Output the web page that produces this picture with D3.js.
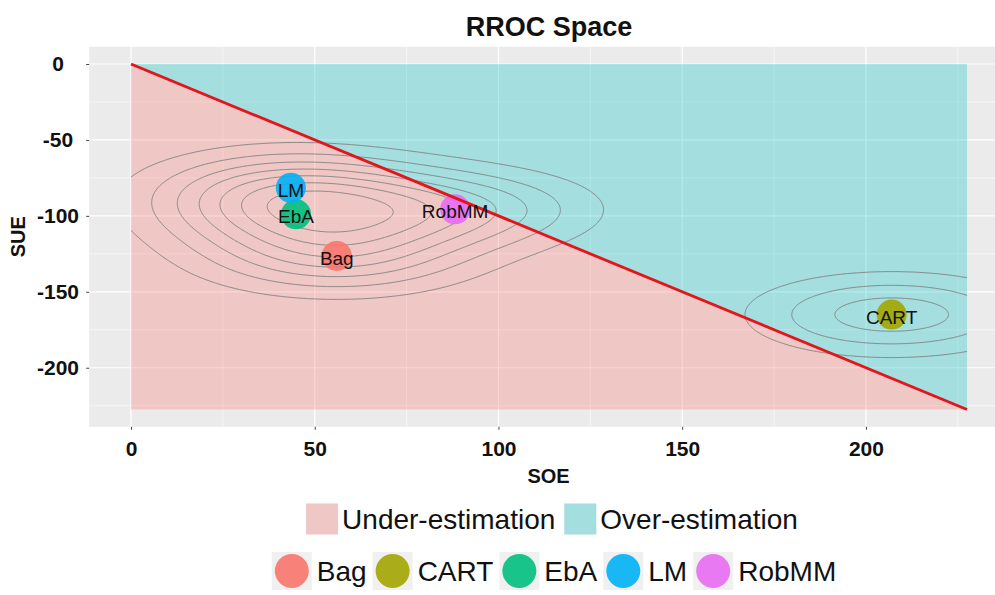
<!DOCTYPE html>
<html>
<head>
<meta charset="utf-8">
<script src="https://cdn.jsdelivr.net/npm/d3@7"></script>
<style>
  body { margin: 0; background: #fff; }
  svg { display: block; font-family: Arial, "Liberation Sans", sans-serif; }
</style>
</head>
<body>
<svg id="chart" width="995" height="595"></svg>
<script>
// Models placed in RROC space (SOE = sum of over-estimations, SUE = sum of under-estimations)
const models = ["Bag", "CART", "EbA", "LM", "RobMM"];
const soe = [56, 207, 44.9, 43.5, 88.2];
const sue = [-126.4, -165, -99, -81.5, -95.7];
const modelColors = ["#F8766D", "#A3A500", "#00BF7D", "#00B0F6", "#E76BF3"];

// Regions either side of the SOE = -SUE diagonal
const regionLabels = ["Under-estimation", "Over-estimation"];
const regionColors = ["#F8766D", "#00BFC4"];
const frontier = 227.5;

const xTicks = [0, 50, 100, 150, 200];
const xMinor = [25, 75, 125, 175, 225];
const yTicks = [0, -50, -100, -150, -200];
const yMinor = [-25, -75, -125, -175, -225];

const svg = d3.select("#chart");

const x = d3.scaleLinear().domain([0, frontier]).range([131, 967]);
const y = d3.scaleLinear().domain([0, -frontier]).range([64, 409.5]);
const pad = frontier * 0.05;
const px0 = x(-pad), px1 = x(frontier + pad);
const py0 = y(pad), py1 = y(-frontier - pad);

// Panel background and grid
svg.append("rect").attr("x", px0).attr("y", py0)
  .attr("width", px1 - px0).attr("height", py1 - py0).attr("fill", "#EBEBEB");

const grid = svg.append("g");
grid.selectAll(".vminor").data(xMinor).join("line")
  .attr("x1", d => x(d)).attr("x2", d => x(d)).attr("y1", py0).attr("y2", py1)
  .attr("stroke", "#fff").attr("stroke-width", 0.6);
grid.selectAll(".hminor").data(yMinor).join("line")
  .attr("y1", d => y(d)).attr("y2", d => y(d)).attr("x1", px0).attr("x2", px1)
  .attr("stroke", "#fff").attr("stroke-width", 0.6);
grid.selectAll(".vmajor").data(xTicks).join("line")
  .attr("x1", d => x(d)).attr("x2", d => x(d)).attr("y1", py0).attr("y2", py1)
  .attr("stroke", "#fff").attr("stroke-width", 1.2);
grid.selectAll(".hmajor").data(yTicks).join("line")
  .attr("y1", d => y(d)).attr("y2", d => y(d)).attr("x1", px0).attr("x2", px1)
  .attr("stroke", "#fff").attr("stroke-width", 1.2);

// Region polygons
const regions = [
  [[0, 0], [0, -frontier], [frontier, -frontier]],
  [[0, 0], [frontier, 0], [frontier, -frontier]]
];
const poly = d3.line().x(d => x(d[0])).y(d => y(d[1]));
svg.append("g").selectAll("path").data(regions).join("path")
  .attr("d", d => poly(d) + "Z")
  .attr("fill", (d, i) => regionColors[i]).attr("fill-opacity", 0.3);

// 2D kernel density of the model positions (normal-reference bandwidths)
function bandwidthNrd(v) {
  const s = v.slice().sort(d3.ascending);
  const h = (d3.quantileSorted(s, 0.75) - d3.quantileSorted(s, 0.25)) / 1.34;
  return 4 * 1.06 * Math.min(d3.deviation(v), h) * Math.pow(v.length, -0.2);
}
const hx = bandwidthNrd(soe) / 4, hy = bandwidthNrd(sue) / 4;
const step = 0.5, gx0 = -60, gy0 = -300;
const nx = Math.round(350 / step), ny = Math.round(360 / step);
const dens = new Float64Array(nx * ny);
const norm = 1 / (soe.length * hx * hy * 2 * Math.PI);
for (let j = 0; j < ny; j++) {
  const gy = gy0 + j * step;
  for (let i = 0; i < nx; i++) {
    const gx = gx0 + i * step;
    let s = 0;
    for (let k = 0; k < soe.length; k++) {
      const ax = (gx - soe[k]) / hx, ay = (gy - sue[k]) / hy;
      s += Math.exp(-0.5 * (ax * ax + ay * ay));
    }
    dens[j * nx + i] = s * norm;
  }
}
const zMax = d3.max(dens);
const levels = d3.ticks(0, zMax, 10).filter(t => t > 0 && t < zMax);
const contours = d3.contours().size([nx, ny]).thresholds(levels)(dens);
const toScreen = d3.geoTransform({
  point(cx, cy) {
    this.stream.point(x(gx0 + (cx - 0.5) * step), y(gy0 + (cy - 0.5) * step));
  }
});
svg.append("clipPath").attr("id", "dataClip").append("rect")
  .attr("x", x(0)).attr("y", y(0))
  .attr("width", x(frontier) - x(0)).attr("height", y(-frontier) - y(0));
svg.append("g").attr("clip-path", "url(#dataClip)")
  .selectAll("path").data(contours).join("path")
  .attr("d", d3.geoPath(toScreen))
  .attr("fill", "none").attr("stroke", "#808080").attr("stroke-width", 0.9);

// Model points
const idx = d3.range(models.length);
svg.append("g").selectAll("circle").data(idx).join("circle")
  .attr("cx", i => x(soe[i])).attr("cy", i => y(sue[i])).attr("r", 15)
  .attr("fill", i => modelColors[i]).attr("fill-opacity", 0.9);

// Diagonal separating the regions
svg.append("line")
  .attr("x1", x(0)).attr("y1", y(0)).attr("x2", x(frontier)).attr("y2", y(-frontier))
  .attr("stroke", "#E4141B").attr("stroke-width", 2.8);

// Point labels
svg.append("g").selectAll("text").data(idx).join("text")
  .attr("x", i => x(soe[i])).attr("y", i => y(sue[i]) + 9)
  .attr("text-anchor", "middle").attr("font-size", 19).attr("fill", "#111")
  .text(i => models[i]);

// Axes (plain hyphen for negative tick labels)
const fmt = d => String(d);
const xAxis = svg.append("g").attr("transform", `translate(0,${py1})`)
  .call(d3.axisBottom(x).tickValues(xTicks).tickSize(3).tickFormat(fmt));
const yAxis = svg.append("g").attr("transform", `translate(${px0},0)`)
  .call(d3.axisLeft(y).tickValues(yTicks).tickSize(3).tickFormat(fmt));
[xAxis, yAxis].forEach(g => {
  g.select(".domain").remove();
  g.selectAll(".tick line").attr("stroke", "#444");
  g.selectAll(".tick text").attr("font-size", 21).attr("font-weight", "bold")
    .attr("fill", "#111").attr("font-family", "Arial, 'Liberation Sans', sans-serif");
});
xAxis.selectAll(".tick text").attr("y", 14);
yAxis.selectAll(".tick text").attr("x", 58 - px0).attr("text-anchor", "middle");

// Titles
svg.append("text").attr("x", 549).attr("y", 36).attr("text-anchor", "middle")
  .attr("font-size", 27).attr("font-weight", "bold").attr("fill", "#111").text("RROC Space");
svg.append("text").attr("x", (px0 + 1008) / 2).attr("y", 483).attr("text-anchor", "middle")
  .attr("font-size", 20).attr("font-weight", "bold").attr("fill", "#111").text("SOE");
svg.append("text").attr("transform", `translate(25,${(py0 + py1) / 2}) rotate(-90)`)
  .attr("text-anchor", "middle")
  .attr("font-size", 20).attr("font-weight", "bold").attr("fill", "#111").text("SUE");

// Legends
function legendRow(labels, cy, keyW, keyH, drawKey, center, gapText, gapItem) {
  const g = svg.append("g");
  let cx = 0;
  labels.forEach((lab, i) => {
    const item = g.append("g").attr("transform", `translate(${cx},0)`);
    drawKey(item, i, keyW, keyH, cy);
    const t = item.append("text").attr("x", keyW + gapText).attr("y", cy + 10)
      .attr("font-size", 28).attr("fill", "#111").text(lab);
    cx += keyW + gapText + t.node().getComputedTextLength() + gapItem;
  });
  const total = cx - gapItem;
  g.attr("transform", `translate(${center - total / 2},0)`);
}
legendRow(regionLabels, 519, 32, 31, (item, i, w, h, cy) => {
  item.append("rect").attr("y", cy - h / 2).attr("width", w).attr("height", h).attr("fill", "#EBEBEB");
  item.append("rect").attr("y", cy - h / 2).attr("width", w).attr("height", h)
    .attr("fill", regionColors[i]).attr("fill-opacity", 0.3);
}, 552, 4, 9);
legendRow(models, 571, 40, 38, (item, i, w, h, cy) => {
  item.append("rect").attr("y", cy - h / 2).attr("width", w).attr("height", h).attr("fill", "#F0F0F0");
  item.append("circle").attr("cx", w / 2).attr("cy", cy).attr("r", 17)
    .attr("fill", modelColors[i]).attr("fill-opacity", 0.9);
}, 554, 5, 6);
</script>
</body>
</html>
